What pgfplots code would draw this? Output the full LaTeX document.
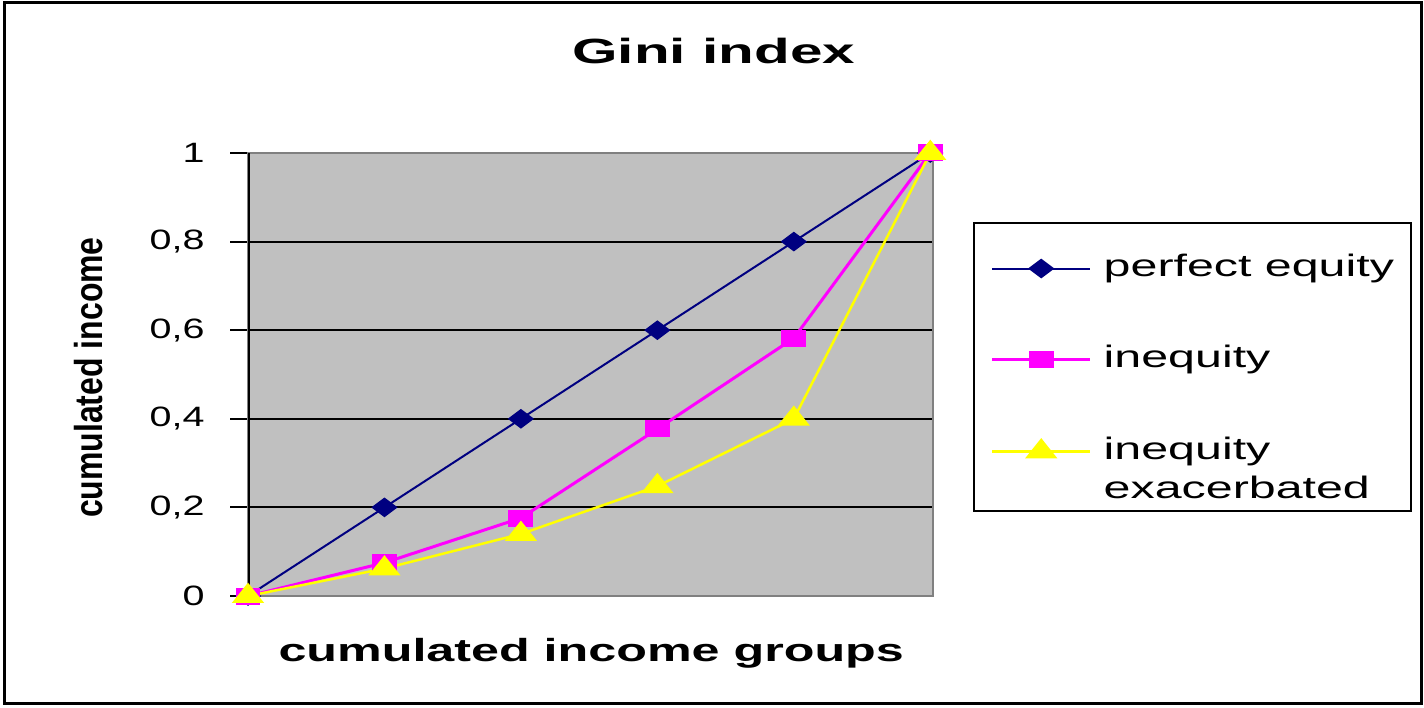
\documentclass[border=0pt]{standalone}
\usepackage{pgfplots}
\pgfplotsset{compat=1.18}
\usepackage{fontspec}
\setmainfont{Liberation Sans}
\newfontfamily\tfont{Liberation Sans}[FakeStretch=1.67]
\newfontfamily\xfont{Liberation Sans}[FakeStretch=1.57]
\newfontfamily\lfont{Liberation Sans}[FakeStretch=1.56]
\newfontfamily\kfont{Liberation Sans}[FakeStretch=1.41]
\newfontfamily\yfont{Liberation Sans}[FakeStretch=0.82]
\definecolor{navyc}{RGB}{0,0,128}
\definecolor{magc}{RGB}{255,0,255}
\definecolor{yelc}{RGB}{255,255,0}
\definecolor{bgc}{RGB}{192,192,192}
\definecolor{brc}{RGB}{128,128,128}
\begin{document}
\begin{tikzpicture}
\begin{axis}[
  at={(124pt,55.5pt)}, anchor=south west,
  scale only axis, width=342.5pt, height=221.5pt,
  xmin=0, xmax=5.02, ymin=0, ymax=1,
  xtick=\empty, ytick={0,0.2,0.4,0.6,0.8,1},
  ytick pos=left,
  ymajorgrids, grid style={black, line width=1pt},
  axis line style={draw=brc, line width=1pt},
  tick align=outside, major tick length=9pt,
  ytick style={black, line width=1pt},
  /pgf/number format/assume math mode=true,
  /pgf/number format/use comma,
  yticklabel style={font=\kfont\fontsize{14}{16}\selectfont, inner sep=0pt, xshift=-12.5pt},
  axis background/.style={fill=bgc},
  title={Gini index},
  title style={at={(0.680,1.176)}, anchor=base, font=\tfont\bfseries\fontsize{17.5}{20}\selectfont},
  xlabel={cumulated income groups},
  xlabel style={at={(0.501,0)}, anchor=base, yshift=-32.5pt, font=\xfont\bfseries\fontsize{16}{18}\selectfont},
  ylabel={cumulated income},
  ylabel style={at={(-0.2117,0.493)}, anchor=base, font=\yfont\bfseries\fontsize{19.5}{22}\selectfont},
  legend style={at={(1.058,0.844)}, anchor=north west, draw=black, line width=1pt,
    inner xsep=8.5pt, inner ysep=6pt, row sep=33pt, column sep=6pt,
    font=\lfont\fontsize{15.5}{18}\selectfont,
    cells={anchor=base west},
    nodes={inner sep=0pt}},
  legend image code/.code={\draw[mark repeat=2, mark phase=2, yshift=4pt] plot coordinates {(0pt,0pt) (24.5pt,0pt) (49pt,0pt)};},
]
\draw[black, line width=1.5pt] (axis cs:0,0) -- (axis cs:0,1);
\addplot[navyc, line width=1pt, mark=diamond*, mark size=5.75pt, mark options={rotate=90, solid, fill=navyc}]
  coordinates {(0,0) (1,0.2) (2,0.4) (3,0.6) (4,0.8) (5,1)};
\addlegendentry{\rule{0pt}{20.7pt}perfect equity}
\addplot[magc, line width=1.5pt, mark=square*, mark size=3.5pt, mark options={xscale=1.57, solid, fill=magc}]
  coordinates {(0,0) (1,0.075) (2,0.176) (3,0.377) (4,0.582) (5,1)};
\addlegendentry{inequity}
\addplot[yelc, line width=1.25pt, mark=triangle*, mark size=5.67pt, mark options={xscale=1.38, solid, fill=yelc}]
  coordinates {(0,0) (1,0.062) (2,0.14) (3,0.248) (4,0.40) (5,1)};
\addlegendentry[text depth=20pt]{\rlap{\raisebox{-19.5pt}{exacerbated}}inequity}
\end{axis}
\draw[line width=1.5pt] (2.25pt,1.75pt) rectangle (710.5pt,352pt);
\pgfresetboundingbox
\path (0,0) rectangle (712pt,353.5pt);
\end{tikzpicture}
\end{document}
